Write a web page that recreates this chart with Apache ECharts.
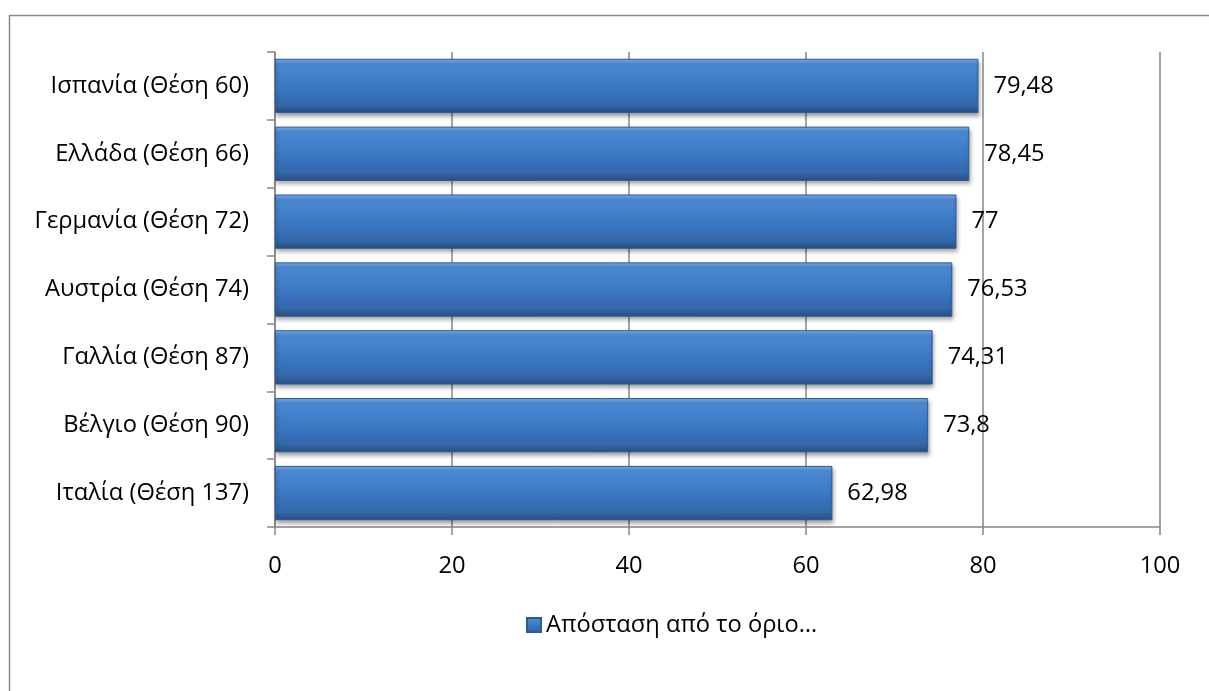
<!DOCTYPE html>
<html>
<head>
<meta charset="utf-8">
<script src="https://cdn.jsdelivr.net/npm/echarts@6/dist/echarts.min.js"></script>
<style>
html,body{margin:0;padding:0;background:#fff;}
#c{width:1209px;height:691px;}
</style>
</head>
<body>
<div id="c"></div>
<script>
const categories = ["Ισπανία (Θέση 60)", "Ελλάδα (Θέση 66)", "Γερμανία (Θέση 72)", "Αυστρία (Θέση 74)", "Γαλλία (Θέση 87)", "Βέλγιο (Θέση 90)", "Ιταλία (Θέση 137)"];
const values = [79.48, 78.45, 77, 76.53, 74.31, 73.8, 62.98];
const seriesName = "Απόσταση από το όριο…";
const xTicks = [0, 20, 40, 60, 80, 100];

const FONT = "'Open Sans', 'Noto Sans', sans-serif";
const FS = 23.7;
const chart = echarts.init(document.getElementById('c'), null, {renderer: 'canvas'});
const barGrad = new echarts.graphic.LinearGradient(0, 0, 0, 1, [
  {offset: 0, color: '#7ab2ee'},
  {offset: 0.1, color: '#4d8ad6'},
  {offset: 0.5, color: '#3b79c5'},
  {offset: 0.85, color: '#3467ab'},
  {offset: 1, color: '#284e80'}
]);
chart.setOption({
  animation: false,
  backgroundColor: '#fff',
  graphic: [{
    type: 'rect', left: 7, top: 13, z: -1,
    shape: {width: 1300, height: 800},
    style: {fill: 'none', stroke: '#8a8a8a', lineWidth: 1.5}
  }],
  grid: {left: 275, right: 49, top: 52, bottom: 164, containLabel: false},
  legend: {
    data: [seriesName],
    left: 521, top: 608,
    icon: 'rect', itemWidth: 14, itemHeight: 14, itemGap: 4,
    textStyle: {fontFamily: FONT, fontSize: FS, color: '#000'}
  },
  xAxis: {
    type: 'value', min: 0, max: 100, interval: 20,
    axisLine: {show: true, lineStyle: {color: '#868686', width: 1.5}},
    axisTick: {show: true, length: 8, lineStyle: {color: '#868686', width: 1.5}},
    splitLine: {show: true, lineStyle: {color: '#868686', width: 1.5}},
    axisLabel: {
      fontFamily: FONT, fontSize: FS, color: '#000', margin: 27,
      formatter: v => xTicks.includes(v) ? String(v) : ''
    }
  },
  yAxis: {
    type: 'category', data: categories, inverse: true,
    axisLine: {show: true, lineStyle: {color: '#868686', width: 1.5}},
    axisTick: {show: true, length: 8, lineStyle: {color: '#868686', width: 1.5}},
    axisLabel: {fontFamily: FONT, fontSize: FS, color: '#000', margin: 26}
  },
  series: [{
    name: seriesName,
    type: 'bar',
    data: values,
    barCategoryGap: '20%',
    itemStyle: {
      color: barGrad,
      borderColor: '#2d5a92', borderWidth: 1,
      shadowColor: 'rgba(0,0,0,0.35)', shadowBlur: 4, shadowOffsetX: 1, shadowOffsetY: 3
    },
    label: {
      show: true, position: 'right', distance: 15,
      fontFamily: FONT, fontSize: FS, color: '#000',
      formatter: p => String(p.value).replace('.', ',')
    }
  }]
});
</script>
</body>
</html>
